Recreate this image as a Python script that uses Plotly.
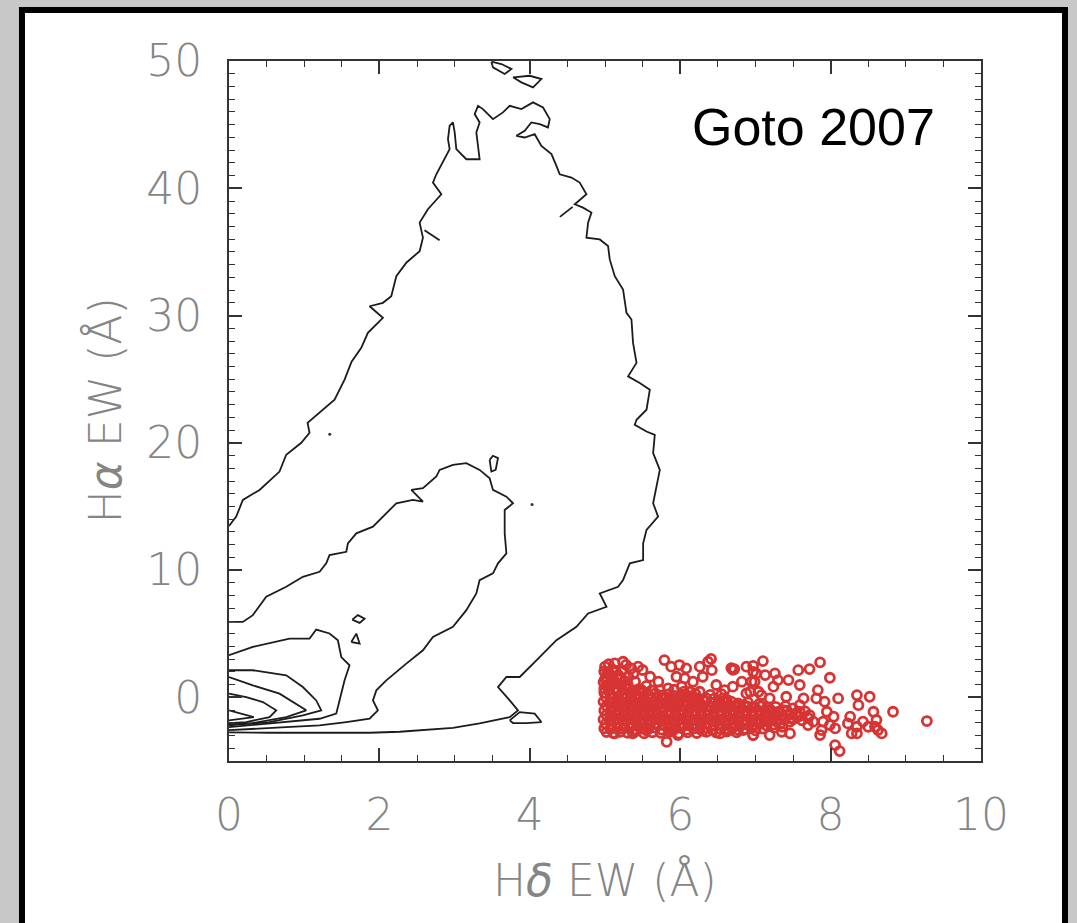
import plotly.graph_objects as go

# ---------------------------------------------------------------------------
# Density contours of the comparison galaxy sample (H-delta EW vs H-alpha EW)
# ---------------------------------------------------------------------------
outer_hd = [0.0, 0.096, 0.184, 0.406, 0.672, 0.761, 0.961, 1.071, 1.045, 1.204, 1.404, 1.537,
            1.630, 1.759, 1.847, 2.047, 1.870, 2.047, 2.158, 2.225, 2.358, 2.535, 2.579, 2.535,
            2.645, 2.824, 2.712, 2.757, 2.845, 2.934, 2.912, 2.934, 2.978, 3.001, 3.023, 3.156,
            3.333, 3.311, 3.289, 3.333, 3.267, 3.311, 3.377, 3.510, 3.643, 3.733, 3.888, 4.043,
            4.176, 4.265, 4.242, 4.132, 4.021, 3.932, 3.822, 3.932, 4.065, 4.154, 4.288, 4.354,
            4.398, 4.554, 4.664, 4.753, 4.598, 4.708, 4.820, 4.775, 4.753, 4.930, 5.041, 5.063,
            5.130, 5.240, 5.286, 5.352, 5.373, 5.419, 5.307, 5.462, 5.596, 5.552, 5.419, 5.396,
            5.552, 5.662, 5.640, 5.729, 5.685, 5.640, 5.706, 5.552, 5.507, 5.507, 5.330, 5.240,
            5.174, 4.930, 5.020, 4.775, 4.620, 4.354, 4.088, 3.866, 3.689, 3.577, 3.733, 3.843,
            3.733, 3.333, 2.978, 2.269, 1.870, 0.978, 0.539, 0.0]
outer_ha = [13.46, 14.20, 15.51, 16.30, 17.74, 19.06, 20.00, 20.79, 21.57, 22.36, 23.39, 24.96,
            26.38, 27.46, 28.64, 29.82, 30.73, 31.00, 31.52, 33.09, 34.15, 35.06, 36.12, 37.30,
            38.35, 39.53, 40.45, 41.10, 42.02, 43.07, 43.86, 44.91, 45.17, 44.39, 43.07, 42.28,
            42.28, 43.33, 44.39, 45.17, 45.83, 46.48, 46.22, 45.43, 45.96, 46.48, 46.22, 46.75,
            46.35, 45.43, 44.78, 45.04, 45.17, 44.51, 44.12, 43.99, 44.25, 43.33, 42.68, 41.76,
            41.10, 40.84, 40.45, 39.53, 38.74, 38.48, 38.09, 37.30, 36.12, 35.98, 35.46, 34.41,
            33.09, 32.05, 30.21, 29.69, 27.85, 26.28, 25.22, 24.70, 24.17, 22.60, 21.81, 21.42,
            20.89, 20.63, 19.19, 17.87, 16.56, 15.25, 14.20, 13.15, 12.10, 10.79, 10.53, 9.21,
            8.69, 8.17, 7.11, 6.59, 5.54, 4.49, 2.91, 1.60, 1.60, 0.81, -0.24, -1.02,
            -1.55, -2.05, -2.40, -2.70, -2.78, -2.80, -2.78, -2.75]

middle_hd = [0.0, 0.184, 0.317, 0.495, 0.761, 0.982, 1.204, 1.293, 1.337, 1.560, 1.581, 1.693,
             1.914, 2.047, 2.225, 2.446, 2.579, 2.425, 2.579, 2.757, 2.801, 2.978, 3.156, 3.333,
             3.466, 3.510, 3.689, 3.777, 3.666, 3.666, 3.689, 3.577, 3.510, 3.333, 3.289, 3.156,
             2.978, 2.712, 2.579, 2.358, 2.092, 1.959, 1.914, 1.980, 1.870, 1.560, 1.204, 0.761,
             0.317, 0.0]
middle_ha = [5.93, 5.93, 6.46, 7.90, 8.69, 9.47, 9.87, 10.53, 11.18, 11.44, 12.10, 12.89,
             13.41, 14.20, 15.25, 15.51, 15.38, 16.30, 16.43, 17.35, 17.87, 18.27, 18.40, 17.87,
             17.22, 16.30, 15.77, 15.25, 14.72, 12.89, 11.31, 10.53, 9.74, 9.21, 8.17, 6.85,
             5.54, 4.75, 3.70, 2.65, 1.34, 0.55, -0.24, -1.02, -1.68, -1.94, -2.20, -2.34,
             -2.46, -2.58]

inner_hd = [0.0, 0.317, 0.805, 1.071, 1.160, 1.337, 1.448, 1.493, 1.603, 1.537, 1.470, 1.426,
            1.204, 0.761, 0.317, 0.0]
inner_ha = [3.31, 3.96, 4.62, 4.62, 5.33, 5.02, 4.49, 3.17, 2.52, 1.34, -0.24, -1.28,
            -1.68, -1.94, -2.20, -2.34]

core1_hd = [0.0, 0.317, 0.761, 0.982, 1.160, 1.227, 0.982, 0.539, 0.0]
core1_ha = [2.13, 2.13, 1.73, 0.81, -0.24, -1.02, -1.42, -1.94, -2.20]

core2_hd = [0.0, 0.317, 0.672, 0.894, 1.027, 0.761, 0.317, 0.0]
core2_ha = [1.60, 0.94, 0.29, -0.50, -1.02, -1.55, -2.02, -2.13]

core3_hd = [0.0, 0.229, 0.450, 0.628, 0.539, 0.229, 0.0]
core3_ha = [0.29, 0.02, -0.37, -1.02, -1.55, -1.94, -2.02]

core4_hd = [0.0, 0.33, 0.0]
core4_ha = [-1.02, -1.55, -1.81]

# small closed islands of the contour levels
island_hd = [3.466, 3.510, 3.577, 3.546, 3.489, 3.466, None,
             1.639, 1.714, 1.803, 1.737, 1.639, None,
             1.626, 1.693, 1.737, 1.626, None,
             3.733, 3.866, 4.065, 4.154, 3.955, 3.777, 3.733, None,
             3.489, 3.510, 3.666, 3.755, 3.622, 3.489, None,
             3.777, 3.888, 4.043, 4.154, 3.999, 3.777, None,
             2.60, 2.80, None,
             4.40, 4.57]
island_ha = [18.66, 18.98, 18.80, 17.87, 17.74, 18.66, None,
             6.11, 6.46, 6.19, 5.85, 6.11, None,
             4.35, 5.01, 4.23, 4.35, None,
             -1.81, -1.16, -1.28, -1.94, -2.02, -2.02, -1.81, None,
             49.95, 49.50, 48.98, 49.37, 49.76, 49.95, None,
             48.72, 48.32, 47.93, 48.58, 48.84, 48.72, None,
             36.71, 35.92, None,
             37.75, 38.54]

contours = [
    (outer_hd, outer_ha),
    (middle_hd, middle_ha),
    (inner_hd, inner_ha),
    (core1_hd, core1_ha),
    (core2_hd, core2_ha),
    (core3_hd, core3_ha),
    (core4_hd, core4_ha),
    (island_hd, island_ha),
]

# isolated galaxies outside the lowest contour
stray_hd = [1.34, 4.03]
stray_ha = [20.67, 15.16]

# ---------------------------------------------------------------------------
# E+A galaxies (H-delta EW > 5 A): (H-delta EW, H-alpha EW)
# ---------------------------------------------------------------------------
ea_core = [
    (4.99, 0.38), (5.07, 0.30), (5.16, 0.42), (5.24, 0.27), (5.33, 0.36), (5.41, 0.22), (5.50, 0.33),
    (5.58, 0.20), (5.67, 0.31), (5.76, 0.15), (5.85, 0.26), (5.93, 0.12), (6.02, 0.21), (6.10, 0.08),
    (5.01, 0.02), (5.10, -0.06), (5.18, 0.05), (5.27, -0.03), (5.35, 0.04), (5.44, -0.08), (5.52, 0.00),
    (5.61, -0.05), (5.70, 0.03), (5.78, -0.09), (5.87, -0.02), (5.96, -0.10), (6.04, -0.01), (6.13, -0.12),
    (6.21, -0.04), (6.30, -0.15), (6.45, -0.10), (6.62, -0.18),
    (4.98, -0.33), (5.06, -0.41), (5.15, -0.30), (5.23, -0.38), (5.32, -0.29), (5.40, -0.42), (5.49, -0.34),
    (5.57, -0.40), (5.66, -0.31), (5.74, -0.43), (5.83, -0.35), (5.92, -0.39), (6.00, -0.30), (6.09, -0.44),
    (6.17, -0.36), (6.26, -0.41), (6.34, -0.32), (6.43, -0.45), (6.51, -0.37), (6.60, -0.42), (6.68, -0.33),
    (6.77, -0.47), (6.90, -0.40), (7.05, -0.52),
    (5.02, -0.68), (5.11, -0.75), (5.19, -0.66), (5.28, -0.73), (5.36, -0.64), (5.45, -0.77), (5.53, -0.69),
    (5.62, -0.72), (5.70, -0.65), (5.79, -0.78), (5.88, -0.70), (5.96, -0.74), (6.05, -0.66), (6.13, -0.79),
    (6.22, -0.71), (6.30, -0.75), (6.39, -0.67), (6.47, -0.80), (6.56, -0.72), (6.64, -0.76), (6.73, -0.68),
    (6.81, -0.81), (6.90, -0.73), (6.99, -0.77), (7.08, -0.70), (7.17, -0.82), (7.27, -0.74), (7.40, -0.69),
    (4.99, -1.03), (5.07, -1.10), (5.16, -1.01), (5.24, -1.08), (5.33, -0.99), (5.41, -1.12), (5.50, -1.04),
    (5.58, -1.07), (5.67, -1.00), (5.75, -1.13), (5.84, -1.05), (5.93, -1.09), (6.01, -1.01), (6.10, -1.14),
    (6.18, -1.06), (6.27, -1.10), (6.35, -1.02), (6.44, -1.15), (6.52, -1.07), (6.61, -1.11), (6.69, -1.03),
    (6.78, -1.16), (6.86, -1.08), (6.95, -1.12), (7.04, -1.04), (7.13, -1.17), (7.22, -1.09), (7.31, -1.13),
    (7.42, -1.05), (7.55, -1.20), (7.66, -1.10),
    (5.02, -1.38), (5.10, -1.45), (5.19, -1.36), (5.27, -1.43), (5.36, -1.34), (5.44, -1.47), (5.53, -1.39),
    (5.61, -1.42), (5.70, -1.35), (5.78, -1.48), (5.87, -1.40), (5.95, -1.44), (6.04, -1.36), (6.12, -1.49),
    (6.21, -1.41), (6.29, -1.45), (6.38, -1.37), (6.46, -1.50), (6.55, -1.42), (6.63, -1.46), (6.72, -1.38),
    (6.80, -1.51), (6.89, -1.43), (6.98, -1.47), (7.07, -1.39), (7.16, -1.52), (7.25, -1.44), (7.34, -1.48),
    (7.44, -1.40), (7.58, -1.50), (7.70, -1.62),
    (4.98, -1.73), (5.06, -1.80), (5.15, -1.71), (5.23, -1.78), (5.32, -1.69), (5.40, -1.82), (5.49, -1.74),
    (5.57, -1.77), (5.66, -1.70), (5.74, -1.83), (5.83, -1.75), (5.91, -1.79), (6.00, -1.71), (6.08, -1.84),
    (6.17, -1.76), (6.25, -1.80), (6.34, -1.72), (6.42, -1.85), (6.51, -1.77), (6.59, -1.81), (6.68, -1.73),
    (6.76, -1.86), (6.85, -1.78), (6.94, -1.82), (7.03, -1.74), (7.12, -1.87), (7.21, -1.79), (7.30, -1.83),
    (7.39, -1.75), (7.50, -1.72), (7.62, -1.80),
    (5.01, -2.08), (5.09, -2.15), (5.18, -2.06), (5.26, -2.13), (5.35, -2.04), (5.43, -2.17), (5.52, -2.09),
    (5.60, -2.12), (5.69, -2.05), (5.77, -2.18), (5.86, -2.10), (5.94, -2.14), (6.03, -2.06), (6.11, -2.19),
    (6.20, -2.11), (6.28, -2.15), (6.37, -2.07), (6.45, -2.20), (6.54, -2.12), (6.62, -2.16), (6.71, -2.08),
    (6.79, -2.21), (6.88, -2.13), (6.97, -2.17), (7.06, -2.09), (7.15, -2.22), (7.24, -2.14), (7.33, -2.10),
    (4.99, -2.43), (5.07, -2.50), (5.16, -2.41), (5.24, -2.48), (5.33, -2.39), (5.41, -2.52), (5.50, -2.44),
    (5.58, -2.47), (5.67, -2.40), (5.75, -2.53), (5.84, -2.45), (5.92, -2.49), (6.01, -2.41), (6.09, -2.54),
    (6.18, -2.46), (6.26, -2.50), (6.35, -2.42), (6.43, -2.55), (6.52, -2.47), (6.60, -2.51), (6.69, -2.43),
    (6.77, -2.56), (6.86, -2.48), (6.95, -2.40), (7.10, -2.45), (7.25, -2.38),
    (5.02, -2.72), (5.11, -2.80), (5.20, -2.70), (5.30, -2.78), (5.40, -2.68), (5.52, -2.82), (5.63, -2.74),
    (5.74, -2.79), (5.86, -2.70), (5.98, -2.84), (6.10, -2.75), (6.22, -2.80), (6.35, -2.71), (6.48, -2.77),
    (6.62, -2.69), (6.75, -2.74),
    (5.05, 0.55), (5.14, 0.62), (5.23, 0.58), (5.31, 0.66), (5.40, 0.52), (5.48, 0.60), (5.03, 0.85),
    (5.12, 1.10), (5.21, 0.98), (5.00, 1.45), (5.09, 1.62), (5.03, 1.95), (5.14, 2.08), (5.26, 1.30),
    (5.85, -0.20), (6.15, 0.02), (6.52, -0.28), (6.85, -0.62), (7.20, -0.98), (7.48, -1.62), (7.36, -2.32),
    (5.55, -2.60), (5.90, -2.62), (6.30, -2.63), (6.65, -2.60), (7.00, -2.60), (5.45, -0.55), (5.95, -0.55),
]

ea_sparse = [
    (5.00, 2.41), (5.13, 2.67), (5.24, 2.80), (5.35, 2.28), (5.44, 2.41), (5.06, 1.88), (5.20, 1.49),
    (5.31, 1.62), (5.40, 1.23), (5.04, 0.97), (5.15, 0.70), (5.26, 0.84), (5.60, 1.62), (5.71, 1.23),
    (5.79, 2.93), (5.88, 2.41), (5.99, 2.54), (6.08, 2.28), (5.95, 1.62), (6.06, 1.49), (5.84, 0.70),
    (5.73, 0.57), (6.26, 2.41), (6.37, 2.80), (6.42, 2.14), (6.30, 1.62), (6.17, 1.23), (6.02, 0.84),
    (6.13, 0.44), (6.48, 0.97), (6.59, 0.57), (6.68, 2.30), (6.72, 2.22), (6.70, 2.16), (6.88, 2.41),
    (6.97, 2.01), (6.82, 1.23), (6.99, 1.23), (6.70, 0.84), (6.88, 0.31), (6.57, -0.08), (6.35, -0.08),
    (6.26, 0.44), (5.51, 0.44), (5.62, -0.08), (5.35, 0.18), (7.04, 0.44), (6.75, -0.61), (6.41, 3.02),
    (5.82, -3.49), (5.97, -2.96), (5.37, -2.83), (5.13, -2.83), (6.53, -2.83), (6.84, -2.57), (6.97, -2.96),
    (4.99, 0.72), (5.08, 0.95), (4.98, 1.20), (5.12, 1.35), (5.02, 1.60), (5.18, 1.75), (4.99, 2.05),
    (5.10, 2.20), (5.22, 2.05), (5.30, 1.05), (5.45, 0.65), (5.38, 1.85), (5.50, 2.15), (5.05, 2.60),
    (5.28, 2.55), (5.17, 0.55), (5.55, 0.90), (5.62, 0.55), (5.92, 0.60), (6.05, 0.45), (6.20, 0.30),
    (6.40, 0.20), (6.55, 0.25),
    (7.10, 2.85), (6.97, 2.48), (7.01, 1.88), (7.13, 1.75), (7.26, 1.88), (7.30, 1.36), (7.44, 1.36),
    (7.57, 2.14), (7.72, 2.22), (7.86, 2.75), (7.99, 1.54), (7.59, 0.97), (7.24, 0.84), (6.95, 1.23),
    (6.93, 0.44), (7.08, 0.18), (7.19, -0.08), (7.41, 0.05), (7.59, -0.61), (7.64, -0.08), (7.83, 0.57),
    (7.81, -0.08), (7.92, -0.34), (7.95, -1.13), (8.10, -0.08), (8.35, 0.18), (8.37, -0.61), (8.52, 0.05),
    (8.83, -1.13), (8.57, -1.13), (8.61, -1.78), (8.26, -1.52), (8.23, -2.05), (8.35, -2.31), (8.35, -2.83),
    (8.50, -2.31), (8.63, -2.57), (8.68, -2.83), (9.28, -1.86), (8.04, -1.52), (7.99, -2.18), (7.88, -2.57),
    (7.86, -2.96), (7.70, -2.18), (7.72, -1.39), (7.55, -1.52), (7.46, -1.91), (7.35, -2.70), (7.46, -2.83),
    (7.19, -2.96), (6.97, -2.96), (8.06, -3.75), (8.12, -4.22), (7.06, -1.13), (7.19, -1.39), (7.28, -1.91),
    (7.37, -1.00), (7.50, -0.87), (7.59, -1.13), (7.08, -1.91), (6.95, -1.91), (7.90, -1.91), (7.77, -1.91),
    (8.06, -2.44), (8.28, -2.83), (8.43, -1.91), (8.59, -2.31),
]

ea_hdelta = [p[0] for p in ea_core + ea_sparse]
ea_halpha = [p[1] for p in ea_core + ea_sparse]

x_range = [0, 10]
y_range = [-5, 50]

fig = go.Figure()

for hd, ha in contours:
    fig.add_trace(go.Scatter(
        x=hd, y=ha, mode="lines", connectgaps=False,
        line=dict(color="#1c1c1c", width=1.8),
        hoverinfo="skip", showlegend=False,
    ))

fig.add_trace(go.Scatter(
    x=stray_hd, y=stray_ha, mode="markers",
    marker=dict(color="#333333", size=3),
    hoverinfo="skip", showlegend=False,
))

fig.add_trace(go.Scatter(
    x=ea_hdelta, y=ea_halpha, mode="markers",
    marker=dict(symbol="circle-open", size=9, color="#d73434",
                line=dict(width=2.8, color="#d73434")),
    showlegend=False,
))

axis_color = "#333333"
tick_font = dict(family="DejaVu Sans", size=44, color="#858585", weight=200)

fig.update_xaxes(
    range=x_range, tick0=0, dtick=2,
    ticks="inside", ticklen=13, tickwidth=1.5, tickcolor=axis_color,
    showline=True, linewidth=2, linecolor=axis_color, mirror="allticks",
    showgrid=False, zeroline=False,
    minor=dict(dtick=0.5, ticks="inside", ticklen=6, tickwidth=1.3,
               tickcolor=axis_color, showgrid=False),
    tickfont=tick_font, ticklabelstandoff=14,
)
fig.update_yaxes(
    range=y_range, tick0=0, dtick=10,
    ticks="inside", ticklen=13, tickwidth=1.5, tickcolor=axis_color,
    showline=True, linewidth=2, linecolor=axis_color, mirror="allticks",
    showgrid=False, zeroline=False,
    minor=dict(dtick=1, ticks="inside", ticklen=6, tickwidth=1.3,
               tickcolor=axis_color, showgrid=False),
    tickfont=tick_font, ticklabelstandoff=16,
)

title_font = dict(family="DejaVu Sans", size=44, color="#858585", weight=200)

fig.update_layout(
    width=1077, height=923,
    margin=dict(l=229, r=96, t=61, b=162, autoexpand=False),
    paper_bgcolor="#c8c8c8",
    plot_bgcolor="white",
    showlegend=False,
    shapes=[dict(
        type="rect", xref="paper", yref="paper",
        x0=-0.2753, x1=1.1117, y0=-0.27, y1=1.0729,
        line=dict(color="black", width=6), fillcolor="white", layer="below",
    )],
    annotations=[
        dict(text="H<i>δ</i> EW (Å)", xref="paper", yref="paper", x=0.5, y=-0.17,
             xanchor="center", yanchor="middle", showarrow=False, font=title_font),
        dict(text="H<i>α</i> EW (Å)", xref="paper", yref="paper", x=-0.165, y=0.501,
             xanchor="center", yanchor="middle", textangle=-90, showarrow=False,
             font=title_font),
        dict(text="Goto 2007", xref="paper", yref="paper", x=0.777, y=0.905,
             xanchor="center", yanchor="middle", showarrow=False,
             font=dict(family="Liberation Sans", size=52, color="black")),
    ],
)

fig.write_html("out.html")
